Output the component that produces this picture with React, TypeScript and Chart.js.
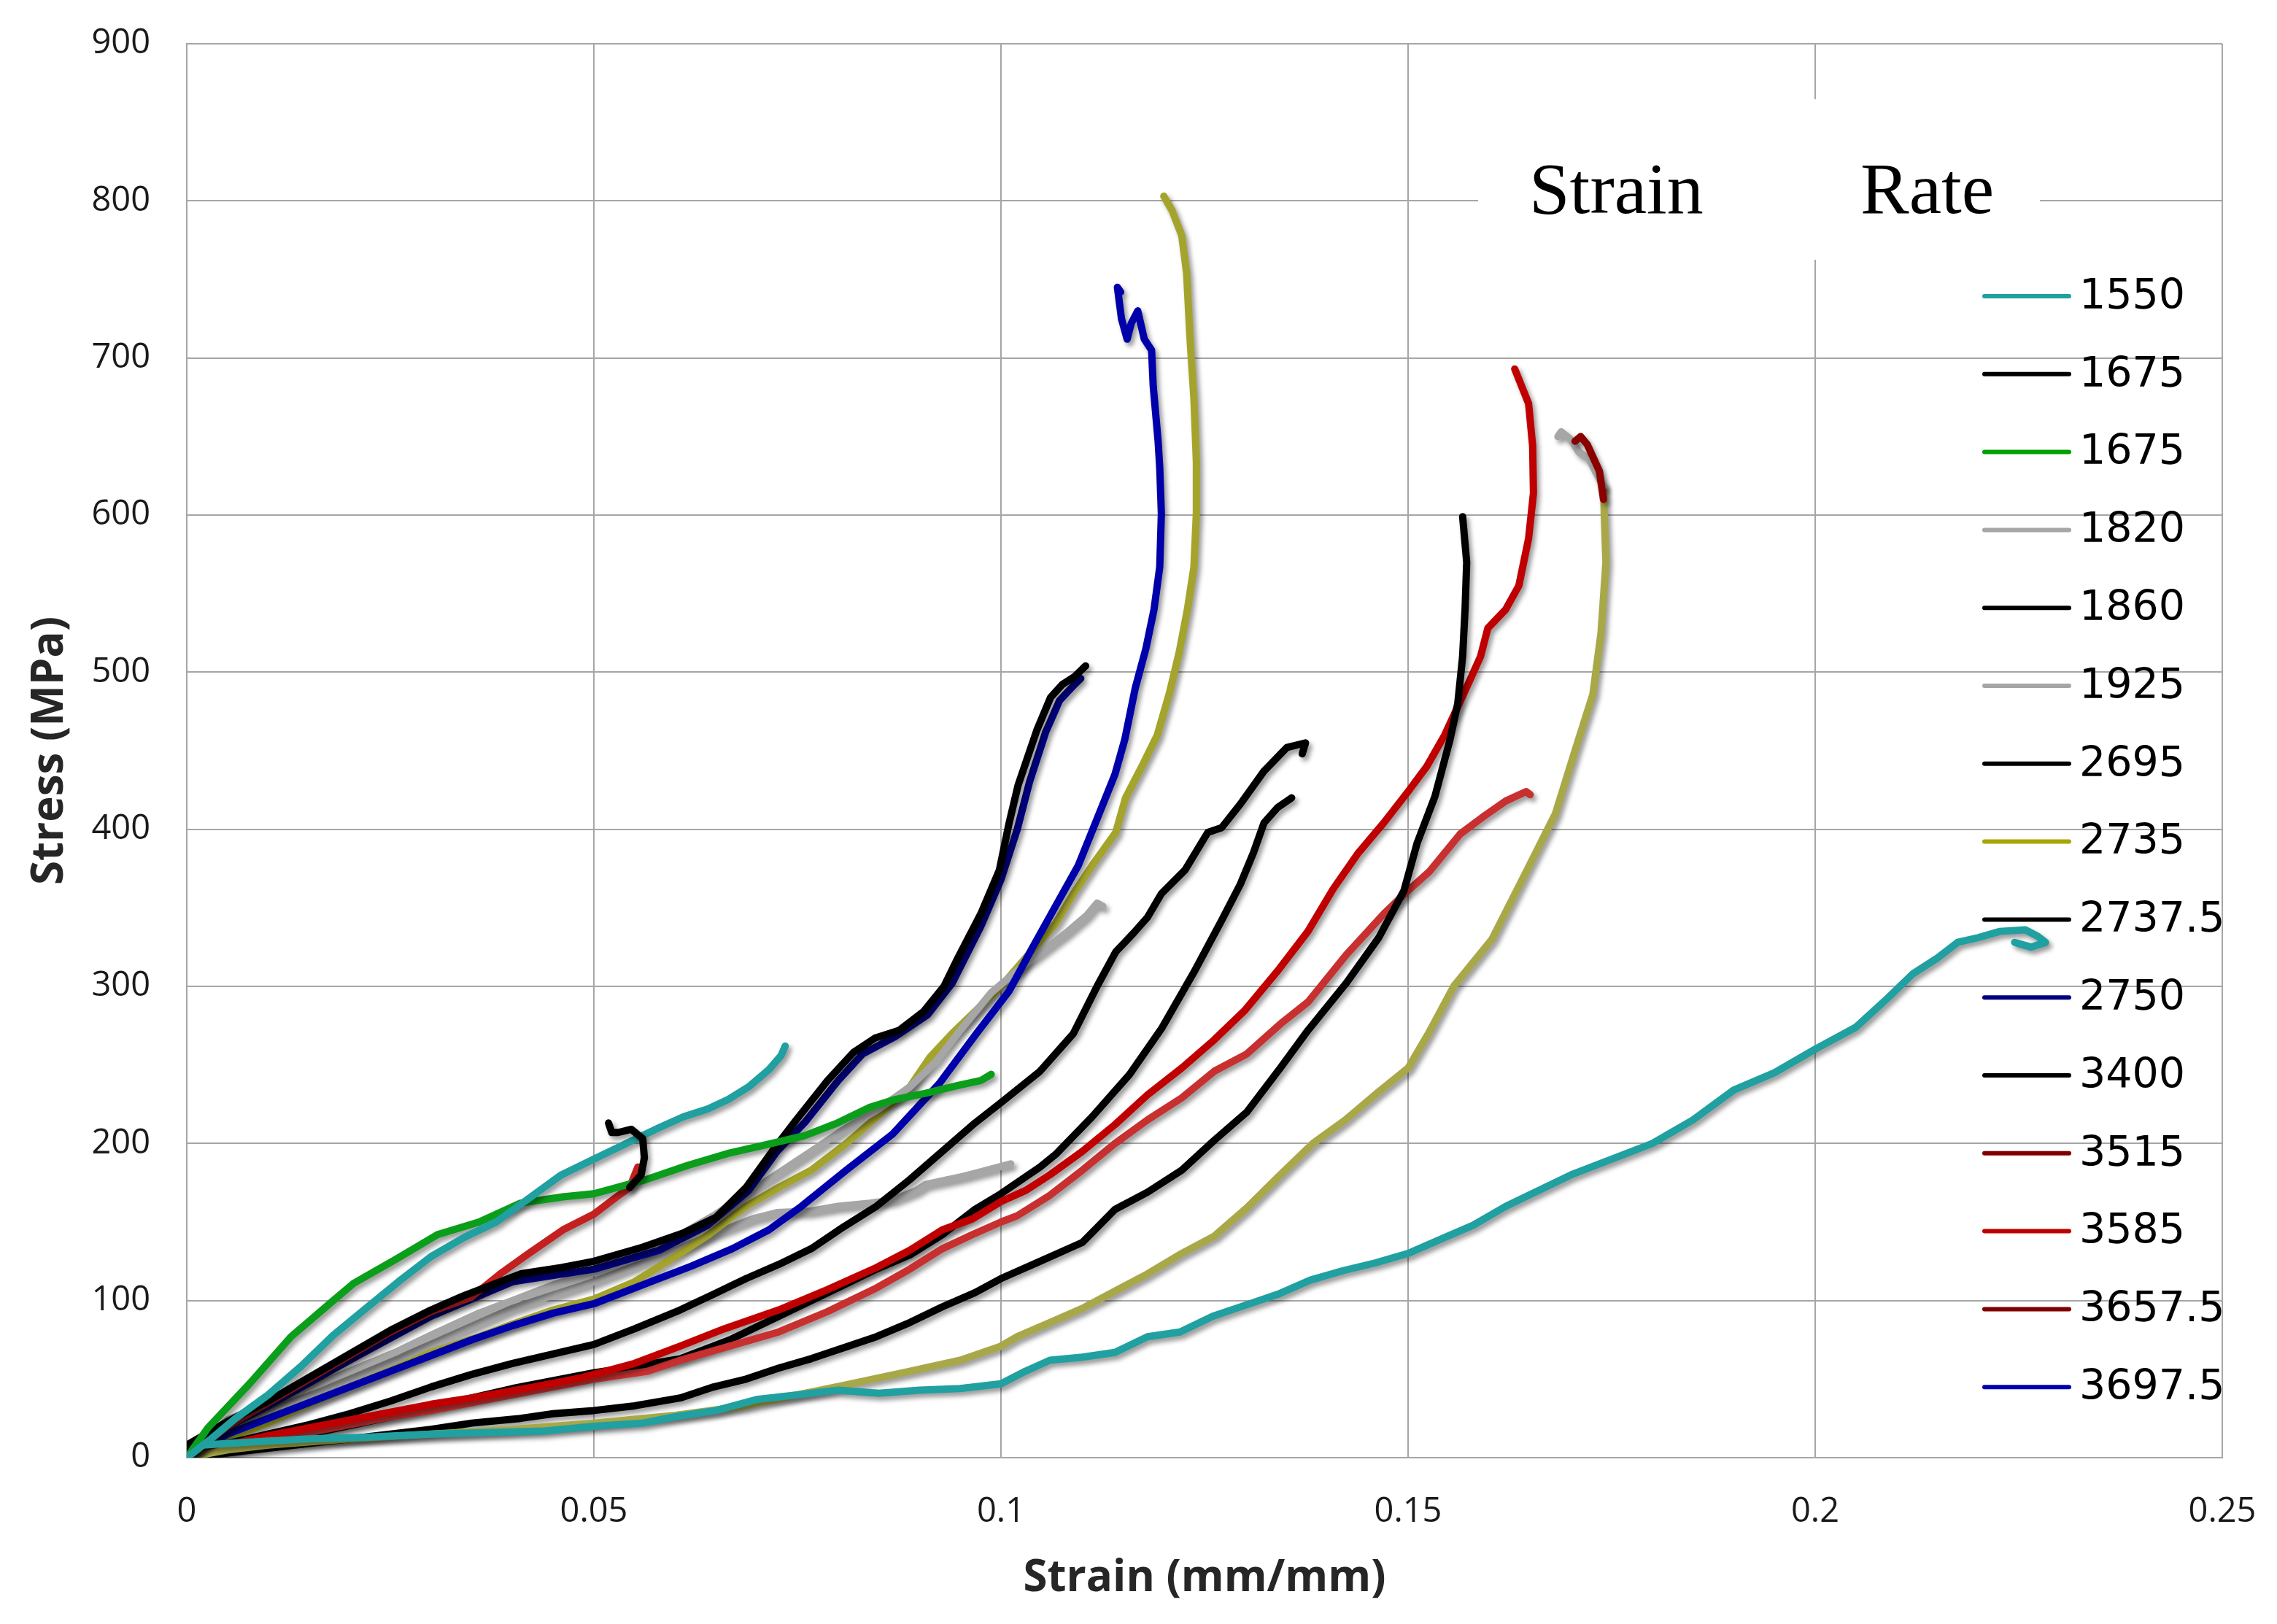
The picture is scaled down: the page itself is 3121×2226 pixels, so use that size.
import { useEffect, useRef } from "react"
import Chart from "chart.js/auto"

// axis ticks
const xTicks = [0, 0.05, 0.1, 0.15, 0.2, 0.25]
const xTickLabels = ["0", "0.05", "0.1", "0.15", "0.2", "0.25"]
const yTicks = [0, 100, 200, 300, 400, 500, 600, 700, 800, 900]

// legend (strain rates)
const legendLabels = ["1550", "1675", "1675", "1820", "1860", "1925", "2695", "2735", "2737.5", "2750", "3400", "3515", "3585", "3657.5", "3697.5"]
const legendColors = ["#20a0a0", "#000000", "#00a000", "#a6a6a6", "#000000", "#a6a6a6", "#000000", "#a6a600", "#000000", "#000080", "#000000", "#800000", "#c00000", "#800000", "#0000b0"]

// curves: [strain, stress]
const c1550 = [[0,0],[0.002,8],[0.008,10],[0.015,12],[0.022,13],[0.03,15],[0.037,16],[0.044,17],[0.05,20],[0.056,22],[0.06,26],[0.065,30],[0.07,37],[0.075,40],[0.08,43],[0.085,41],[0.09,43],[0.095,44],[0.1,47],[0.103,55],[0.106,62],[0.11,64],[0.114,67],[0.118,77],[0.122,80],[0.126,90],[0.13,97],[0.134,104],[0.138,113],[0.142,119],[0.146,124],[0.15,130],[0.154,139],[0.158,148],[0.162,160],[0.166,170],[0.17,180],[0.175,190],[0.18,200],[0.185,215],[0.19,234],[0.195,245],[0.2,260],[0.205,274],[0.209,293],[0.212,308],[0.215,318],[0.2175,328],[0.22,331],[0.2227,335],[0.2258,336],[0.2273,332],[0.2283,328],[0.2265,325],[0.2245,328]]
const tealShort = [[0,0],[0.003,12],[0.006,25],[0.01,40],[0.014,58],[0.018,78],[0.022,95],[0.026,112],[0.03,128],[0.034,140],[0.038,150],[0.042,165],[0.046,180],[0.05,190],[0.054,200],[0.058,210],[0.061,217],[0.064,222],[0.0665,228],[0.069,236],[0.0715,247],[0.073,256],[0.0735,262]]
const c1675g = [[0,0],[0.0026,19],[0.0077,47],[0.0128,77],[0.018,100],[0.0205,111],[0.0256,126],[0.0308,142],[0.0359,150],[0.041,162],[0.0462,166],[0.05,168],[0.0564,177],[0.0615,186],[0.0667,194],[0.0718,200],[0.0759,205],[0.0799,213],[0.0839,223],[0.087,228],[0.0908,232],[0.0948,237],[0.0975,240],[0.0988,244]]
const redShort = [[0,0],[0.005,20],[0.01,35],[0.015,50],[0.02,65],[0.025,80],[0.03,93],[0.0349,102],[0.0385,117],[0.042,130],[0.0462,145],[0.05,155],[0.0528,166],[0.0544,172],[0.0554,185]]
const c1860 = [[0.0544,172],[0.0558,180],[0.0562,191],[0.056,203],[0.0546,209],[0.053,207],[0.0522,207],[0.0518,213]]
const c1675 = [[0,0],[0,8],[0.005,23],[0.01,36],[0.015,51],[0.02,66],[0.025,81],[0.03,94],[0.034,103],[0.041,117],[0.046,121],[0.05,125],[0.056,134],[0.061,143],[0.065,153],[0.0687,172],[0.0719,195],[0.0747,214],[0.0787,240],[0.0819,258],[0.0845,267],[0.0875,272],[0.0905,284],[0.093,300],[0.0947,318],[0.0976,347],[0.0998,374],[0.101,404],[0.1021,428],[0.1044,463],[0.1061,484],[0.1075,492],[0.109,497],[0.1104,504]]
const c2750 = [[0,0],[0.005,20],[0.01,33],[0.02,62],[0.03,90],[0.04,112],[0.05,120],[0.058,132],[0.064,148],[0.069,170],[0.0725,195],[0.076,214],[0.08,240],[0.083,257],[0.087,268],[0.091,282],[0.094,302],[0.0975,338],[0.1,368],[0.102,400],[0.1035,430],[0.1055,462],[0.1072,482],[0.109,492],[0.1098,496]]
const c3697 = [[0,0],[0.005,15],[0.01,25],[0.015,35],[0.02,45],[0.025,55],[0.03,65],[0.035,75],[0.04,84],[0.045,92],[0.05,98],[0.056,110],[0.062,122],[0.067,133],[0.0715,145],[0.0755,160],[0.081,183],[0.0867,206],[0.0924,238],[0.097,270],[0.101,297],[0.1038,324],[0.1067,351],[0.1095,377],[0.1123,413],[0.114,435],[0.1152,457],[0.1165,490],[0.1178,515],[0.1188,540],[0.1195,567],[0.1197,601],[0.1195,630],[0.1193,647],[0.1187,682],[0.1185,705],[0.1176,712],[0.1168,730],[0.116,722],[0.1155,712],[0.1148,725],[0.1143,745],[0.1147,742]]
const c2735 = [[0,0],[0.005,12],[0.01,22],[0.0154,35],[0.02,45],[0.0256,57],[0.03,67],[0.0359,77],[0.04,85],[0.045,94],[0.05,101],[0.055,112],[0.0606,130],[0.0641,142],[0.0687,160],[0.0727,172],[0.0767,183],[0.081,200],[0.085,218],[0.0888,236],[0.0913,255],[0.094,270],[0.097,285],[0.1,300],[0.103,318],[0.1067,340],[0.1089,359],[0.1112,377],[0.1141,398],[0.1153,420],[0.1174,441],[0.1192,460],[0.1207,487],[0.1219,513],[0.1229,540],[0.1237,567],[0.124,601],[0.124,634],[0.1237,674],[0.1232,714],[0.1228,754],[0.1222,778],[0.121,794],[0.12,803]]
const c1925 = [[0,0],[0.005,24],[0.01,35],[0.0154,45],[0.02,55],[0.0256,67],[0.03,78],[0.0359,92],[0.04,100],[0.045,110],[0.05,118],[0.055,128],[0.06,140],[0.065,155],[0.07,172],[0.0767,195],[0.081,210],[0.085,222],[0.0888,236],[0.092,252],[0.095,272],[0.0988,296],[0.102,310],[0.105,322],[0.108,334],[0.1105,345],[0.1118,353],[0.1125,351]]
const c1820 = [[0,0],[0.005,18],[0.01,30],[0.02,50],[0.03,72],[0.04,95],[0.05,112],[0.055,122],[0.06,132],[0.065,143],[0.0695,152],[0.0725,156],[0.0767,157],[0.08,160],[0.0839,162],[0.0867,164],[0.0896,170],[0.0908,174],[0.0953,179],[0.0968,181],[0.1012,187]]
const c2695 = [[0,0],[0.005,9],[0.01,15],[0.015,21],[0.02,28],[0.025,36],[0.03,45],[0.035,53],[0.04,60],[0.045,66],[0.05,72],[0.055,82],[0.0606,94],[0.0647,104],[0.0687,114],[0.0727,123],[0.0767,133],[0.0807,147],[0.0847,160],[0.0888,177],[0.0928,195],[0.0968,213],[0.1,226],[0.1048,246],[0.1089,270],[0.1118,300],[0.1141,322],[0.1163,334],[0.118,344],[0.1197,359],[0.1226,374],[0.1254,398],[0.1271,401],[0.1294,416],[0.1323,437],[0.1351,452],[0.1374,455],[0.137,448]]
const c2737 = [[0,0],[0.005,6],[0.01,11],[0.015,15],[0.0205,21],[0.025,26],[0.03,32],[0.035,38],[0.04,44],[0.045,49],[0.05,54],[0.055,58],[0.0606,63],[0.0667,75],[0.0727,90],[0.0767,100],[0.0807,110],[0.0847,120],[0.0888,129],[0.0928,142],[0.0968,158],[0.1,168],[0.1048,185],[0.1067,193],[0.1112,217],[0.1158,244],[0.1197,273],[0.1237,309],[0.1271,342],[0.1294,365],[0.131,385],[0.1323,404],[0.134,414],[0.1357,420]]
const c3400 = [[0,0],[0.005,3],[0.01,6],[0.015,9],[0.02,12],[0.025,15],[0.03,18],[0.035,22],[0.041,25],[0.045,28],[0.05,30],[0.055,33],[0.0606,38],[0.0647,45],[0.0687,50],[0.0727,57],[0.0767,63],[0.0807,70],[0.0847,77],[0.0888,86],[0.0928,96],[0.0968,105],[0.1,114],[0.1048,125],[0.11,137],[0.114,158],[0.118,169],[0.1222,183],[0.1262,202],[0.1302,220],[0.1343,248],[0.1377,272],[0.1424,302],[0.1464,331],[0.1495,361],[0.1511,391],[0.1533,421],[0.1551,456],[0.1561,480],[0.1567,510],[0.157,540],[0.1572,570],[0.1567,599]]
const c3585 = [[0,0],[0.005,8],[0.01,14],[0.015,19],[0.02,24],[0.025,29],[0.03,34],[0.035,38],[0.0426,45],[0.0486,51],[0.055,60],[0.0606,71],[0.066,82],[0.0727,94],[0.0787,107],[0.0847,121],[0.0888,132],[0.0928,145],[0.0965,152],[0.1,163],[0.103,170],[0.106,180],[0.11,195],[0.114,212],[0.118,231],[0.1222,248],[0.1262,266],[0.13,285],[0.134,310],[0.1377,335],[0.1408,362],[0.1439,385],[0.147,404],[0.15,424],[0.1523,440],[0.1545,460],[0.1561,478],[0.1576,495],[0.1589,510],[0.1598,528],[0.162,540],[0.1636,555],[0.1648,585],[0.1654,614],[0.1653,644],[0.1648,671],[0.1631,693]]
const c3515 = [[0,0],[0.005,6],[0.01,11],[0.015,16],[0.02,21],[0.025,26],[0.03,30],[0.035,35],[0.04,40],[0.045,45],[0.05,50],[0.0566,55],[0.0606,62],[0.066,70],[0.0727,80],[0.0787,93],[0.0847,108],[0.0888,120],[0.0928,133],[0.0965,142],[0.1,150],[0.102,154],[0.106,167],[0.11,183],[0.114,200],[0.118,215],[0.1222,229],[0.1262,246],[0.1302,257],[0.1343,276],[0.1377,290],[0.1424,320],[0.147,346],[0.15,361],[0.1526,373],[0.1564,397],[0.1595,409],[0.162,418],[0.1645,424],[0.165,422]]
const oliveLong = [[0,0],[0.005,5],[0.01,8],[0.02,12],[0.03,15],[0.04,18],[0.05,22],[0.06,27],[0.0687,33],[0.075,40],[0.0807,46],[0.0888,55],[0.095,62],[0.1,71],[0.102,77],[0.106,86],[0.11,95],[0.114,106],[0.118,117],[0.1222,130],[0.1262,141],[0.1302,159],[0.1343,180],[0.1383,200],[0.1423,215],[0.1464,233],[0.15,248],[0.1525,270],[0.1556,300],[0.1603,330],[0.165,378],[0.1681,410],[0.1705,450],[0.1727,486],[0.1737,525],[0.1743,570],[0.1741,600],[0.174,618]]
const c3657 = [[0.174,610],[0.1735,628],[0.172,645],[0.1712,650],[0.1705,647]]
const grayCap = [[0.174,618],[0.1722,636],[0.171,640],[0.17,648],[0.1688,653],[0.1684,650]]

// first entry is drawn on top
const series = [
  { pts: c1860, color: "#000000" },
  { pts: c1550, color: "#20a0a0" },
  { pts: tealShort, color: "#20a0a0" },
  { pts: c1675g, color: "#0a9e1a" },
  { pts: c1675, color: "#000000" },
  { pts: redShort, color: "#c42020" },
  { pts: c2750, color: "#000080" },
  { pts: c3657, color: "#8a0000" },
  { pts: grayCap, color: "#a6a6a6" },
  { pts: oliveLong, color: "#a8a848" },
  { pts: c3400, color: "#000000" },
  { pts: c3585, color: "#c00000" },
  { pts: c3515, color: "#c83030" },
  { pts: c2737, color: "#000000" },
  { pts: c2695, color: "#000000" },
  { pts: c3697, color: "#0000aa" },
  { pts: c1925, color: "#a6a6a6" },
  { pts: c2735, color: "#a4a42c" },
  { pts: c1820, color: "#a6a6a6" },
]

const shadowPlugin = {
  id: "lineShadow",
  beforeDatasetDraw(chart: any) {
    const ctx = chart.ctx
    ctx.save()
    ctx.shadowColor = "rgba(0,0,0,0.4)"
    ctx.shadowBlur = 6
    ctx.shadowOffsetX = 4
    ctx.shadowOffsetY = 5
  },
  afterDatasetDraw(chart: any) {
    chart.ctx.restore()
  },
}

const titleBoxPlugin = {
  id: "titleBox",
  beforeDatasetsDraw(chart: any) {
    const { ctx, chartArea } = chart
    ctx.save()
    ctx.fillStyle = "#ffffff"
    ctx.fillRect(chartArea.right - 1020, chartArea.top + 76, 770, 220)
    ctx.restore()
  },
  afterDraw(chart: any) {
    const { ctx, chartArea } = chart
    ctx.save()
    ctx.fillStyle = "#000000"
    ctx.font = '100px "Liberation Serif"'
    ctx.textBaseline = "alphabetic"
    ctx.textAlign = "left"
    ctx.fillText("Strain", chartArea.right - 950, chartArea.top + 232)
    ctx.fillText("Rate", chartArea.right - 496, chartArea.top + 232)

    // legend
    ctx.font = '57px "DejaVu Sans"'
    ctx.textBaseline = "middle"
    ctx.lineCap = "round"
    ctx.lineWidth = 6
    legendLabels.forEach((label, i) => {
      const y = chartArea.top + 346 + i * 106.8
      ctx.strokeStyle = legendColors[i]
      ctx.beginPath()
      ctx.moveTo(chartArea.right - 326, y)
      ctx.lineTo(chartArea.right - 210, y)
      ctx.stroke()
      ctx.fillStyle = "#000000"
      ctx.fillText(label, chartArea.right - 196, y + 2)
    })
    ctx.restore()
  },
}

export default function App() {
  const canvasRef = useRef<HTMLCanvasElement>(null)

  useEffect(() => {
    if (!canvasRef.current) return
    const chart = new Chart(canvasRef.current, {
      type: "scatter",
      data: {
        datasets: series.map((s) => ({
          data: s.pts.map(([x, y]) => ({ x, y })),
          borderColor: s.color,
          backgroundColor: s.color,
          borderWidth: 10,
          pointRadius: 0,
          showLine: true,
          fill: false,
          tension: 0,
          borderJoinStyle: "round" as const,
          borderCapStyle: "round" as const,
        })),
      },
      options: {
        animation: false,
        responsive: true,
        maintainAspectRatio: false,
        layout: { padding: { top: 60, right: 75, left: 0, bottom: 0 } },
        plugins: {
          legend: { display: false },
          tooltip: { enabled: false },
        },
        scales: {
          x: {
            type: "linear",
            min: 0,
            max: 0.25,
            afterBuildTicks: (scale: any) => {
              scale.ticks = xTicks.map((v) => ({ value: v }))
            },
            afterFit: (scale: any) => {
              scale.height = 228
              scale.paddingLeft = 0
              scale.paddingRight = 0
            },
            ticks: {
              padding: 46,
              color: "#1a1a1a",
              font: { family: "Open Sans", size: 47 },
              callback: (_v: any, i: number) => xTickLabels[i],
            },
            grid: { color: "#a6a6a6", lineWidth: 2, drawTicks: false },
            border: { color: "#a6a6a6", width: 2 },
            title: {
              display: true,
              text: "Strain (mm/mm)",
              color: "#262626",
              font: { family: "Open Sans", size: 60, weight: "bold" },
              padding: { top: 0, bottom: 26 },
            },
          },
          y: {
            type: "linear",
            min: 0,
            max: 900,
            afterBuildTicks: (scale: any) => {
              scale.ticks = yTicks.map((v) => ({ value: v }))
            },
            afterFit: (scale: any) => {
              scale.width = 256
              scale.paddingTop = 0
              scale.paddingBottom = 0
            },
            ticks: {
              padding: 50,
              color: "#1a1a1a",
              font: { family: "Open Sans", size: 47 },
              callback: (v: any) => String(v),
            },
            grid: { color: "#a6a6a6", lineWidth: 2, drawTicks: false },
            border: { color: "#a6a6a6", width: 2 },
            title: {
              display: true,
              text: "Stress (MPa)",
              color: "#262626",
              font: { family: "Open Sans", size: 60, weight: "bold" },
              padding: { top: 33, bottom: 0 },
            },
          },
        },
      },
      plugins: [shadowPlugin, titleBoxPlugin],
    })
    return () => chart.destroy()
  }, [])

  return (
    <div style={{ position: "fixed", left: 0, top: 0, width: 3121, height: 2226, background: "#ffffff" }}>
      <canvas ref={canvasRef} />
    </div>
  )
}
